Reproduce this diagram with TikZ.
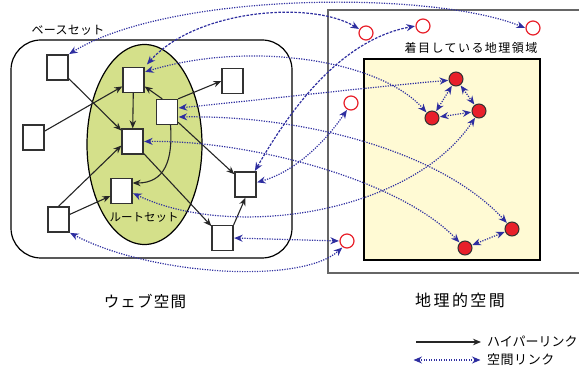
\documentclass[tikz,border=0pt]{standalone}
\usepackage{fontspec}
\newfontfamily\jp{Noto Sans CJK JP}
\usetikzlibrary{arrows.meta}
\definecolor{lblue}{RGB}{46,46,160}
\definecolor{lred}{RGB}{232,32,42}
\definecolor{lgreen}{RGB}{212,224,138}
\definecolor{lyellow}{RGB}{255,250,212}
\definecolor{sqgray}{RGB}{50,50,50}
\tikzset{
  sq/.style={draw=sqgray, line width=1.3pt, fill=white, minimum width=21pt, minimum height=25pt, inner sep=0pt},
  ocirc/.style={circle, draw=lred, line width=1.2pt, fill=white, minimum size=14pt, inner sep=0pt},
  fcirc/.style={circle, draw=sqgray, line width=1pt, fill=lred, minimum size=14pt, inner sep=0pt},
  hyper/.style={-{Stealth[length=8pt,width=6.5pt]}, line width=1.1pt, black!85},
  geo/.style={{Stealth[length=8.5pt,width=7pt]}-{Stealth[length=8.5pt,width=7pt]}, line width=1.2pt, lblue, dash pattern=on 1.2pt off 1.3pt, shorten <=0.5pt, shorten >=0.5pt},
  geodash/.style={geo, dash pattern=on 2.6pt off 1.4pt},
  lbl/.style={inner sep=0pt, font=\jp\fontsize{12}{14}\selectfont},
  big/.style={inner sep=0pt, font=\jp\fontsize{15}{18}\selectfont}
}
\begin{document}
\begin{tikzpicture}[x=1pt, y=-1pt]
\useasboundingbox (0,0) rectangle (579,366);
% regions
\draw[rounded corners=30pt, line width=1.2pt] (11,40) rectangle (292,258);
\draw[fill=lgreen, line width=1.2pt] (144.5,144.5) ellipse [x radius=57.5pt, y radius=100pt];
\draw[line width=1.2pt, black!60] (585,10) -- (328,10) -- (328,273) -- (585,273);
\draw[fill=lyellow, line width=1.1pt] (364,59) rectangle (540,260);
% labels
\node[lbl, font=\jp\fontsize{12}{14}\selectfont\addfontfeature{LetterSpace=2}] (tbase) at (68,30) {ベースセット};
\node[lbl, font=\jp\fontsize{11.5}{14}\selectfont] (troot) at (144,217) {ルートセット};
\node[lbl, font=\jp\fontsize{12}{14}\selectfont\addfontfeature{LetterSpace=12}] (tfocus) at (471,48) {着目している地理領域};
\node[big, font=\jp\fontsize{15.5}{18}\selectfont\addfontfeature{LetterSpace=8}] (tweb) at (145,301) {ウェブ空間};
\node[big, font=\jp\fontsize{16}{18}\selectfont\addfontfeature{LetterSpace=15}] (tgeo) at (460,300) {地理的空間};
\node[lbl, anchor=west, font=\jp\fontsize{13}{14}\selectfont] (thyp) at (487,342) {ハイパーリンク};
\node[lbl, anchor=west, font=\jp\fontsize{13}{14}\selectfont\addfontfeature{LetterSpace=4}] (tsp) at (487,360) {空間リンク};
% web pages
\node[sq] (A) at (57.5,67.5) {};
\node[sq] (B) at (133.5,80) {};
\node[sq] (C) at (232.5,81) {};
\node[sq] (D) at (167,112) {};
\node[sq] (E) at (33.5,137.5) {};
\node[sq] (F) at (132.5,141.5) {};
\node[sq] (G) at (121.5,191) {};
\node[sq] (H) at (245.5,184.5) {};
\node[sq] (I) at (58.5,219.5) {};
\node[sq] (J) at (222.5,238) {};
% places
\node[ocirc] (c1) at (366,33) {};
\node[ocirc] (c2) at (423,26) {};
\node[ocirc] (c3) at (533,28) {};
\node[ocirc] (c4) at (351,103) {};
\node[ocirc] (c5) at (347,241) {};
\node[fcirc] (r1) at (456,79) {};
\node[fcirc] (r2) at (479,111) {};
\node[fcirc] (r3) at (432,118) {};
\node[fcirc] (r4) at (512,229) {};
\node[fcirc] (r5) at (465,248) {};
% hyperlinks
\draw[hyper] (A) -- (F);
\draw[hyper] (E) -- (B);
\draw[hyper] (B) -- (F);
\draw[hyper] (D.110) -- (B.-30);
\draw[hyper] (D.north east) -- (C.west);
\draw[hyper] (D.-75) .. controls (173,160) and (165,183) .. ([yshift=8pt]G.east);
\draw[hyper] (D) -- (H);
\draw[hyper] (I.north) -- (F.200);
\draw[hyper] (I) -- (G);
\draw[hyper] (F) -- (J);
\draw[hyper] (J.north east) -- (H.south);
% spatial links
\draw[geo] (A.north east) .. controls (170,-8) and (430,-10) .. (c3.west);
\draw[geodash] ([xshift=2pt,yshift=2pt]B.north east) .. controls (195,10) and (310,0) .. (c1.150);
\draw[geo] ([yshift=8pt]B.east) .. controls (250,40) and (380,60) .. (r3.135);
\draw[geo] ([yshift=4pt]D.east) .. controls (260,100) and (380,86) .. (r1.190);
\draw[geo] ([yshift=-5pt]D.east) .. controls (300,115) and (440,150) .. (r4.130);
\draw[geo] (F.east) .. controls (250,140) and (400,180) .. (r5.135);
\draw[geo] ([yshift=-2pt]G.east) .. controls (230,240) and (410,215) .. (r2.240);
\draw[geodash] ([xshift=-2pt]H.north east) .. controls (290,110) and (340,40) .. (c2.west);
\draw[geo] ([yshift=2pt]H.east) .. controls (300,170) and (330,135) .. (c4.240);
\draw[geo] (J.east) -- (c5.west);
\draw[geo] (I.south east) .. controls (150,275) and (300,285) .. (c5.235);
\draw[geo] (r1) -- (r3);
\draw[geo] (r1) -- (r2);
\draw[geo] (r3) -- (r2);
\draw[geo] (r4) -- (r5);
% legend
\coordinate (h1) at (416,342);
\coordinate (h2) at (481,342);
\coordinate (s1) at (413,360);
\coordinate (s2) at (481,360);
\draw[hyper] (h1) -- (h2);
\draw[geo] (s1) -- (s2);
\end{tikzpicture}
\end{document}
